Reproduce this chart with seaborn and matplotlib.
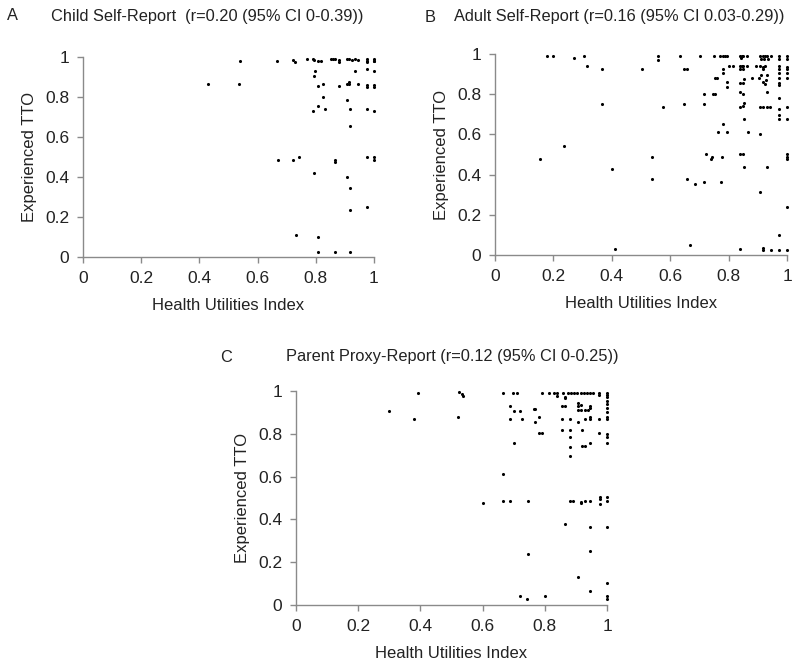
import numpy as np
import pandas as pd
import matplotlib
matplotlib.use("Agg")
import matplotlib.pyplot as plt
import seaborn as sns

# Panel A - child self-report (HUI vs experienced TTO)
child_hui = [0.431, 0.54, 0.537, 0.666, 0.723, 0.729, 0.769, 0.79, 0.794, 0.809, 0.818,
             0.852, 0.86, 0.866, 0.881, 0.881, 0.906, 0.915, 0.923, 0.935, 0.946,
             0.975, 0.975, 0.975, 1.0, 1.0, 1.0, 0.797, 0.794, 0.935, 0.975, 1.0,
             0.809, 0.824, 0.881, 0.906, 0.915, 0.915, 0.946, 0.975, 0.975, 1.0, 1.0,
             0.824, 0.906, 0.809, 0.832, 0.792, 0.918, 0.975, 1.0, 0.918,
             0.669, 0.723, 0.743, 0.866, 0.866, 0.975, 1.0, 1.0,
             0.794, 0.906, 0.918, 0.918, 0.975, 0.731, 0.807, 0.807, 0.866, 0.918]
child_tto = [0.863, 0.98, 0.863, 0.98, 0.983, 0.975, 0.99, 0.99, 0.985, 0.98, 0.98,
             0.99, 0.99, 0.99, 0.985, 0.973, 0.99, 0.99, 0.985, 0.99, 0.985,
             0.99, 0.98, 0.975, 0.99, 0.98, 0.98, 0.928, 0.903, 0.928, 0.942, 0.928,
             0.853, 0.863, 0.853, 0.863, 0.867, 0.875, 0.863, 0.858, 0.85, 0.858, 0.85,
             0.80, 0.787, 0.753, 0.738, 0.728, 0.738, 0.738, 0.728, 0.653,
             0.487, 0.487, 0.50, 0.487, 0.475, 0.50, 0.50, 0.487,
             0.422, 0.40, 0.345, 0.237, 0.25, 0.108, 0.10, 0.025, 0.025, 0.025]

# Panel B - adult self-report
adult_hui = [0.178, 0.20, 0.27, 0.235, 0.155,
             0.305, 0.316, 0.365, 0.365, 0.402, 0.411, 0.505, 0.537, 0.537, 0.557, 0.557,
             0.577, 0.634, 0.647, 0.659, 0.647, 0.656, 0.668, 0.685, 0.702, 0.716, 0.716,
             0.716, 0.723, 0.742, 0.740, 0.748, 0.752, 0.750, 0.753, 0.759, 0.77, 0.78,
             0.788, 0.796, 0.780, 0.780, 0.780, 0.765, 0.773, 0.776, 0.793, 0.793, 0.793,
             0.802, 0.816, 0.839, 0.846, 0.85, 0.842, 0.862, 0.839, 0.846, 0.85, 0.85,
             0.862, 0.839, 0.839, 0.85, 0.854, 0.839, 0.85, 0.839, 0.85, 0.854, 0.854,
             0.839, 0.85, 0.854, 0.839, 0.866, 0.879, 0.893, 0.908, 0.917, 0.925, 0.919,
             0.908, 0.917, 0.925, 0.933, 0.946, 0.91, 0.921, 0.936, 0.903, 0.917, 0.923,
             0.912, 0.93, 0.928, 0.93, 0.908, 0.919, 0.93, 0.942, 0.908, 0.93, 0.908,
             0.917, 0.919, 0.945, 0.974, 0.974, 0.974, 0.974, 0.974, 0.974, 0.974, 0.974,
             0.974, 0.974, 0.974, 0.974, 0.974, 0.974, 1.0, 1.0, 1.0, 1.0, 1.0, 1.0,
             1.0, 1.0, 1.0, 1.0, 1.0, 1.0, 1.0]
adult_tto = [0.99, 0.99, 0.978, 0.54, 0.478,
             0.99, 0.94, 0.925, 0.751, 0.426, 0.028, 0.925, 0.489, 0.376, 0.99, 0.97,
             0.738, 0.99, 0.925, 0.925, 0.751, 0.376, 0.05, 0.352, 0.99, 0.80, 0.751,
             0.362, 0.502, 0.489, 0.476, 0.80, 0.80, 0.99, 0.879, 0.879, 0.99, 0.99,
             0.99, 0.99, 0.924, 0.904, 0.652, 0.612, 0.362, 0.489, 0.612, 0.862, 0.838,
             0.94, 0.94, 0.99, 0.99, 0.99, 0.978, 0.99, 0.94, 0.94, 0.94, 0.925,
             0.94, 0.925, 0.855, 0.858, 0.875, 0.813, 0.80, 0.738, 0.741, 0.755, 0.675,
             0.502, 0.502, 0.44, 0.028, 0.612, 0.879, 0.94, 0.94, 0.934, 0.94, 0.924,
             0.99, 0.99, 0.99, 0.99, 0.99, 0.975, 0.975, 0.975, 0.88, 0.86, 0.85,
             0.895, 0.895, 0.87, 0.813, 0.738, 0.738, 0.738, 0.738, 0.602, 0.44, 0.315,
             0.033, 0.025, 0.025, 0.99, 0.975, 0.94, 0.925, 0.904, 0.879, 0.857, 0.846,
             0.78, 0.725, 0.697, 0.675, 0.10, 0.025, 0.99, 0.975, 0.937, 0.924, 0.904, 0.879,
             0.738, 0.675, 0.502, 0.489, 0.478, 0.237, 0.025]

# Panel C - parent proxy-report
parent_hui = [0.30, 0.379, 0.393, 0.522, 0.525, 0.533, 0.538, 0.60, 0.665, 0.665,
              0.665, 0.689, 0.697, 0.71, 0.689, 0.70, 0.72, 0.688, 0.727, 0.70,
              0.746, 0.746, 0.72, 0.742, 0.80, 0.764, 0.769, 0.767, 0.78, 0.78, 0.79,
              0.79, 0.815, 0.828, 0.839, 0.839, 0.855, 0.864, 0.855, 0.88, 0.855, 0.88,
              0.88, 0.88, 0.88, 0.88, 0.89, 0.864,
              0.86, 0.875, 0.885, 0.895, 0.905, 0.915, 0.925, 0.935, 0.945, 0.955, 0.866, 0.866,
              0.907, 0.918, 0.907, 0.907, 0.918, 0.928, 0.938, 0.946, 0.946, 0.907, 0.928,
              0.946, 0.946, 0.92, 0.92, 0.93, 0.946, 0.918, 0.918, 0.93, 0.944, 0.946,
              0.946, 0.907, 0.946, 0.973, 0.973, 0.973, 0.973, 0.976, 0.976, 0.976,
              1.0, 1.0, 1.0, 1.0, 1.0, 1.0, 1.0, 1.0, 1.0, 1.0, 1.0, 1.0, 1.0, 1.0,
              1.0, 1.0, 1.0, 1.0]
parent_tto = [0.907, 0.868, 0.992, 0.88, 0.994, 0.984, 0.977, 0.478, 0.992, 0.612,
              0.488, 0.488, 0.992, 0.992, 0.931, 0.907, 0.907, 0.868, 0.868, 0.755,
              0.488, 0.238, 0.042, 0.026, 0.042, 0.914, 0.914, 0.857, 0.88, 0.805, 0.805,
              0.992, 0.992, 0.992, 0.989, 0.977, 0.93, 0.93, 0.868, 0.868, 0.818, 0.818,
              0.784, 0.74, 0.696, 0.488, 0.488, 0.379,
              0.992, 0.992, 0.992, 0.992, 0.992, 0.992, 0.992, 0.992, 0.992, 0.992, 0.973, 0.966,
              0.942, 0.935, 0.93, 0.911, 0.911, 0.911, 0.911, 0.92, 0.93, 0.857, 0.868,
              0.868, 0.88, 0.818, 0.743, 0.743, 0.755, 0.483, 0.475, 0.488, 0.488, 0.363,
              0.252, 0.13, 0.067, 0.992, 0.981, 0.868, 0.805, 0.506, 0.472, 0.494,
              0.992, 0.98, 0.97, 0.955, 0.94, 0.92, 0.90, 0.88, 0.868, 0.80, 0.784, 0.755,
              0.506, 0.488, 0.363, 0.104, 0.042, 0.026]

ticks = [0, 0.2, 0.4, 0.6, 0.8, 1]
tick_labels = ["0", "0.2", "0.4", "0.6", "0.8", "1"]

sns.set_style("white")
plt.rcParams["font.family"] = ["Liberation Sans", "DejaVu Sans"]

fig = plt.figure(figsize=(8, 6.66), dpi=100)

panels = [
    (child_hui, child_tto, [0.10375, 0.6141, 0.36375, 0.3003]),
    (adult_hui, adult_tto, [0.61875, 0.6171, 0.365, 0.3018]),
    (parent_hui, parent_tto, [0.37, 0.0916, 0.38875, 0.3213]),
]

for hui, tto, rect in panels:
    ax = fig.add_axes(rect)
    df = pd.DataFrame({"hui": hui, "tto": tto})
    sns.scatterplot(data=df, x="hui", y="tto", ax=ax, color="black", s=5,
                    linewidth=0, clip_on=False)
    ax.set_xlim(0, 1)
    ax.set_ylim(0, 1)
    ax.set_xticks(ticks)
    ax.set_xticklabels(tick_labels)
    ax.set_yticks(ticks)
    ax.set_yticklabels(tick_labels)
    sns.despine(ax=ax)
    for side in ["left", "bottom"]:
        ax.spines[side].set_color("#8a8a8a")
        ax.spines[side].set_linewidth(1.0)
    ax.tick_params(axis="both", direction="out", length=4, width=1, color="#8a8a8a",
                   labelsize=12.5, labelcolor="#222222", pad=6, left=True, bottom=True)
    ax.set_xlabel("Health Utilities Index", fontsize=12, color="#222222", labelpad=9)
    ax.set_ylabel("Experienced TTO", fontsize=12, color="#222222", labelpad=6)

title_kw = dict(fontsize=11.8, color="#222222", va="center")
fig.text(7 / 800, 1 - 16 / 666, "A", **title_kw)
fig.text(51 / 800, 1 - 16 / 666, "Child Self-Report  (r=0.20 (95% CI 0-0.39))", **title_kw)
fig.text(425 / 800, 1 - 17 / 666, "B", **title_kw)
fig.text(454 / 800, 1 - 17 / 666, "Adult Self-Report (r=0.16 (95% CI 0.03-0.29))", **title_kw)
fig.text(220 / 800, 1 - 357 / 666, "C", **title_kw)
fig.text(286 / 800, 1 - 357 / 666, "Parent Proxy-Report (r=0.12 (95% CI 0-0.25))", **title_kw)

fig.savefig("out.png", dpi=100)
